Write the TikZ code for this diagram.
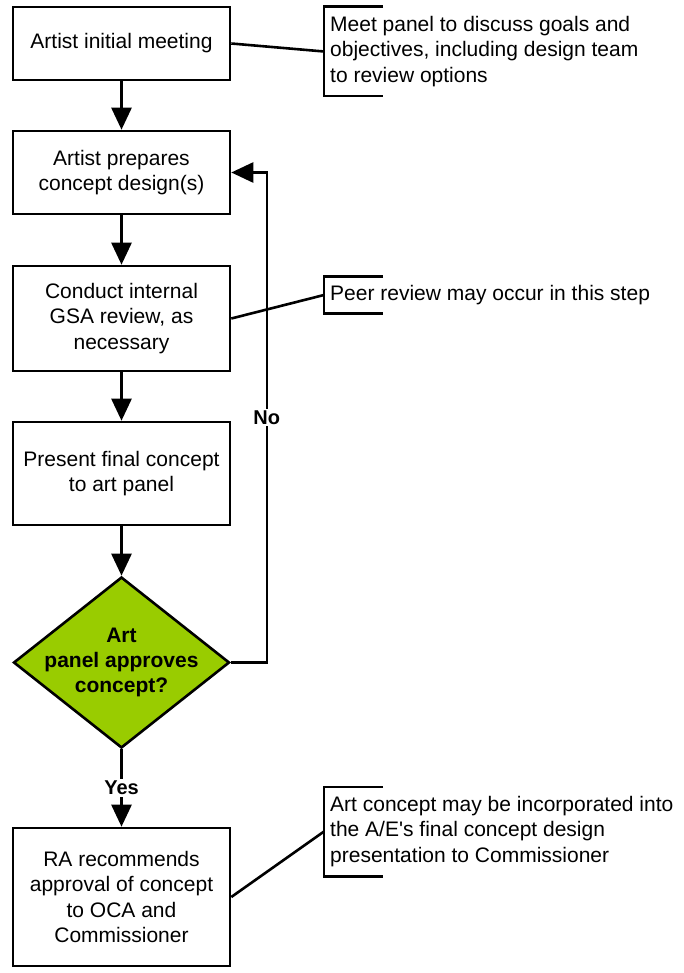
\documentclass[tikz,border=0pt]{standalone}
\usepackage{fontspec}
\setmainfont{Liberation Sans}[Ligatures=TeXOff]
\usetikzlibrary{shapes.geometric,arrows.meta}

\definecolor{approvegreen}{HTML}{99CC00}

\tikzset{
  stepbox/.style={draw,line width=2.6pt,minimum width=217pt,align=center,
    inner sep=4pt,font=\fontsize{21}{25.5}\selectfont},
  decision/.style={diamond,draw,line width=2.6pt,fill=approvegreen,
    shape aspect=1.26,minimum width=216pt,minimum height=171pt,
    inner xsep=-20pt,inner ysep=-15pt,align=center,
    font=\fontsize{21}{25}\selectfont\bfseries},
  note/.style={anchor=west,inner ysep=0pt,inner xsep=6pt,align=left,
    font=\fontsize{21}{25.5}\selectfont},
  link/.style={line width=2.6pt},
  flow/.style={line width=2.6pt,-{Triangle[width=20pt,length=22pt]}},
  answer/.style={fill=white,inner sep=2pt,font=\fontsize{20}{24}\selectfont\bfseries}
}

\begin{document}
\begin{tikzpicture}[x=1pt,y=-1pt]
  \useasboundingbox (0,0) rectangle (683,973);
  % main column of steps
  \node[stepbox,minimum height=73pt]  (meeting)   at (121.5,43.5) {Artist initial meeting};
  \node[stepbox,minimum height=83pt]  (prepare)   at (121.5,172.5) {Artist prepares\\concept design(s)};
  \node[stepbox,minimum height=105pt] (review)    at (121.5,318.5) {Conduct internal\\GSA review, as\\necessary};
  \node[stepbox,minimum height=103pt] (present)   at (121.5,473.5) {Present final concept\\to art panel};
  \node[decision]                     (approve)   at (121.5,662.5) {Art\\panel approves\\concept?};
  \node[stepbox,minimum height=138pt] (recommend) at (121.5,897) {RA recommends\\approval of concept\\to OCA and\\Commissioner};
  % side notes
  \node[note,minimum height=89pt] (goalsnote) at (324,51.5)
    {Meet panel to discuss goals and\\objectives, including design team\\to review options};
  \node[note,minimum height=36pt] (peernote) at (324,295)
    {Peer review may occur in this step};
  \node[note,minimum height=89pt] (aenote) at (324,831.5)
    {Art concept may be incorporated into\\the A/E's final concept design\\presentation to Commissioner};
  \foreach \n in {goalsnote,peernote,aenote}
    \draw[link] ([xshift=59pt]\n.north west) -- (\n.north west)
      -- (\n.south west) -- ([xshift=59pt]\n.south west);
  \draw[link] (meeting.east) -- (goalsnote.west);
  \draw[link] (review.east) -- (peernote.west);
  \draw[link] (recommend.east) -- (aenote.west);
  % flow
  \draw[flow] (meeting) -- (prepare);
  \draw[flow] (prepare) -- (review);
  \draw[flow] (review) -- (present);
  \draw[flow] (present) -- (approve);
  \draw[flow] (approve.south) -- node[answer] {Yes} (recommend.north);
  \draw[flow] (approve.east) -- ++(36,0) |- node[answer,pos=0.25] {No} (prepare.east);
\end{tikzpicture}
\end{document}
